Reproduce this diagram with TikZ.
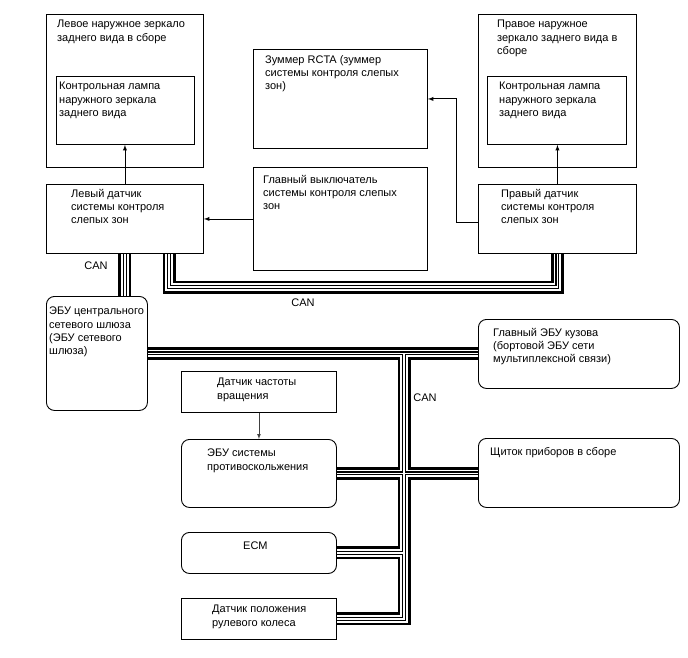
\documentclass[tikz,border=0pt]{standalone}
\usepackage{fontspec}
\setmainfont{Liberation Sans}
\usetikzlibrary{backgrounds}

% Trazado del bus CAN (se dibuja por capas)
\newcommand{\canbus}{(lsens.south) -- (lsens.south |- gw.north)
  (lsens.south -| lcan) -- (lcan) -| (rsens.south)
  (gw.east) -- (gw.east -| becu.west)
  (trunk) |- (steer.east)
  (skid.east) -- (skid.east -| meter.west)
  (ecm.east) -- (ecm.east -| trunk)}

\begin{document}
\begin{tikzpicture}[
    >=latex,
    x=1pt, y=-1pt,
    box/.style={draw, rectangle, anchor=north west, inner sep=0pt, line width=0.9pt},
    rbox/.style={box, rounded corners=8pt},
    txt/.style={anchor=north west, inner sep=0pt, align=left, font=\fontsize{11}{13.3}\selectfont},
    canlbl/.style={inner sep=0pt, font=\fontsize{11}{13.3}\selectfont},
    conn/.style={->, line width=0.9pt}
]
  \useasboundingbox (0,0) rectangle (688,658);

  % Espejo izquierdo
  \node[box, minimum width=157pt, minimum height=153pt] (lmir) at (46,14) {};
  \node[txt] (lmirt) at (57,20) {Левое наружное зеркало\\заднего вида в сборе};
  \node[box, minimum width=138pt, minimum height=68pt] (llamp) at (56,76) {};
  \node[txt] (llampt) at (59,82) {Контрольная лампа\\наружного зеркала\\заднего вида};

  % Sensor izquierdo
  \node[box, minimum width=157pt, minimum height=69pt] (lsens) at (46,184) {};
  \node[txt] (lsenst) at (71,189) {Левый датчик\\системы контроля\\слепых зон};

  % Zumbador e interruptor
  \node[box, minimum width=174pt, minimum height=99pt] (buzz) at (253,49) {};
  \node[txt] (buzzt) at (265,55) {Зуммер RCTA (зуммер\\системы контроля слепых\\зон)};
  \node[box, minimum width=174pt, minimum height=103pt] (swtch) at (253,167) {};
  \node[txt] (swtcht) at (263,175) {Главный выключатель\\системы контроля слепых\\зон};

  % Espejo derecho
  \node[box, minimum width=158pt, minimum height=153pt] (rmir) at (478,14) {};
  \node[txt] (rmirt) at (497,20) {Правое наружное\\зеркало заднего вида в\\сборе};
  \node[box, minimum width=139pt, minimum height=68pt] (rlamp) at (487,76) {};
  \node[txt] (rlampt) at (499,82) {Контрольная лампа\\наружного зеркала\\заднего вида};

  % Sensor derecho
  \node[box, minimum width=158pt, minimum height=69pt] (rsens) at (478,184) {};
  \node[txt] (rsenst) at (501,189) {Правый датчик\\системы контроля\\слепых зон};

  % ECUs
  \node[rbox, minimum width=101pt, minimum height=114pt] (gw) at (46,296) {};
  \node[txt] (gwt) at (49,307) {ЭБУ центрального\\сетевого шлюза\\(ЭБУ сетевого\\шлюза)};
  \node[rbox, minimum width=201pt, minimum height=69pt] (becu) at (478,319) {};
  \node[txt] (becut) at (493,328) {Главный ЭБУ кузова\\(бортовой ЭБУ сети\\мультиплексной связи)};
  \node[rbox, minimum width=201pt, minimum height=69pt] (meter) at (478,438) {};
  \node[txt] (metert) at (490,447) {Щиток приборов в сборе};
  \node[box, minimum width=155pt, minimum height=41pt] (speed) at (181,371) {};
  \node[txt] (speedt) at (217,378) {Датчик частоты\\вращения};
  \node[rbox, minimum width=155pt, minimum height=68pt] (skid) at (181,439) {};
  \node[txt] (skidt) at (207,449) {ЭБУ системы\\противоскольжения};
  \node[rbox, minimum width=155pt, minimum height=41pt] (ecm) at (181,532) {};
  \node[txt] (ecmt) at (243,542) {ECM};
  \node[box, minimum width=155pt, minimum height=41pt] (steer) at (181,598) {};
  \node[txt] (steert) at (212,605) {Датчик положения\\рулевого колеса};

  % Bus CAN
  \coordinate (lcan) at (169,287);
  \coordinate (trunk) at (404,353);
  \begin{pgfonlayer}{background}
    \foreach \w/\c in {13/black, 7.5/white, 4/black, 1.8/white}
      \draw[line width=\w pt, \c] \canbus;
  \end{pgfonlayer}
  \node[canlbl] (can1) at (96,266) {CAN};
  \node[canlbl] (can2) at (303,303) {CAN};
  \node[canlbl] (can3) at (425,398) {CAN};

  % Senales
  \draw[conn] (lsens.north) -- (lsens.north |- llamp.south);
  \draw[conn] (rsens.north) -- (rsens.north |- rlamp.south);
  \draw[conn] (swtch.west) -- (swtch.west -| lsens.east);
  \draw[conn] ([yshift=-3.5pt]rsens.west) -- ++(-22,0) |- (buzz.east);
  \draw[conn, black!75, line width=0.7pt] (speed.south) -- (skid.north);

\end{tikzpicture}
\end{document}
